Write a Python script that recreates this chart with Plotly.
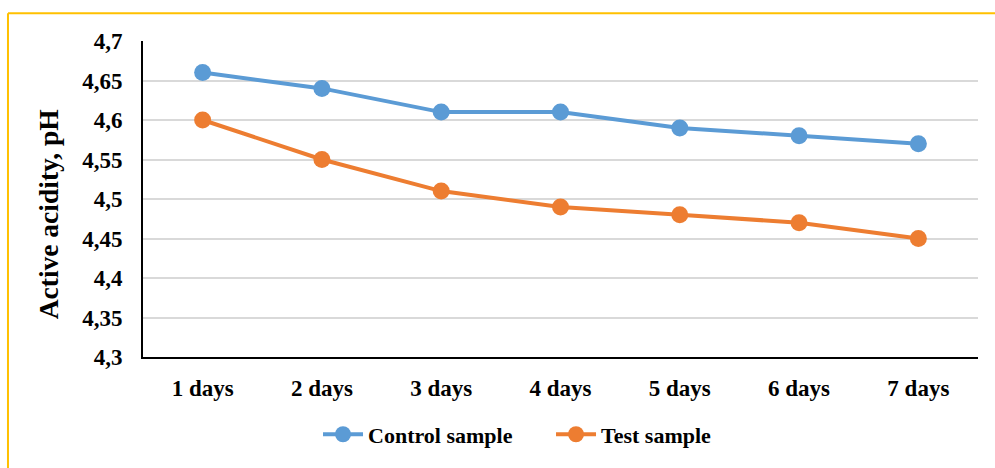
import plotly.graph_objects as go

categories = ["1 days", "2 days", "3 days", "4 days", "5 days", "6 days", "7 days"]
control_values = [4.66, 4.64, 4.61, 4.61, 4.59, 4.58, 4.57]
test_values = [4.60, 4.55, 4.51, 4.49, 4.48, 4.47, 4.45]
y_tick_values = [4.3, 4.35, 4.4, 4.45, 4.5, 4.55, 4.6, 4.65, 4.7]
y_tick_labels = ["4,3", "4,35", "4,4", "4,45", "4,5", "4,55", "4,6", "4,65", "4,7"]
y_title = "Active acidity, pH"

FONT = "Liberation Serif"

fig = go.Figure()
fig.add_trace(go.Scatter(
    x=categories, y=control_values, name="Control sample",
    mode="lines+markers",
    line=dict(color="#5B9BD5", width=4),
    marker=dict(color="#5B9BD5", size=17),
))
fig.add_trace(go.Scatter(
    x=categories, y=test_values, name="Test sample",
    mode="lines+markers",
    line=dict(color="#ED7D31", width=4),
    marker=dict(color="#ED7D31", size=17),
))

fig.update_layout(
    width=995, height=468,
    margin=dict(l=143, r=17, t=41, b=108),
    paper_bgcolor="white", plot_bgcolor="white",
    font=dict(family=FONT, size=23, color="black"),
    showlegend=True,
    legend=dict(
        orientation="h", x=0.2096, xanchor="left", y=-0.245, yanchor="middle",
        font=dict(family=FONT, size=22, color="black", weight="bold"),
        itemwidth=40, tracegroupgap=0, entrywidth=178, entrywidthmode="pixels",
    ),
    xaxis=dict(
        type="category", range=[-0.5, 6.5],
        showline=True, linecolor="black", linewidth=2,
        showgrid=False, ticks="", ticklabelstandoff=9,
        tickfont=dict(family=FONT, size=23, color="black", weight="bold"),
    ),
    yaxis=dict(
        range=[4.3, 4.7], tickvals=y_tick_values, ticktext=y_tick_labels,
        showline=True, linecolor="black", linewidth=2,
        showgrid=True, gridcolor="#D9D9D9", gridwidth=1.5,
        zeroline=False, ticks="", ticklabelstandoff=14,
        tickfont=dict(family=FONT, size=23, color="black", weight="bold"),
    ),
    annotations=[
        dict(text=y_title, xref="paper", yref="paper",
             x=-0.1138, y=0.4514, xanchor="center", yanchor="middle",
             textangle=-90, showarrow=False,
             font=dict(family=FONT, size=27.5, color="black", weight="bold")),
    ],
    shapes=[
        dict(type="line", xref="paper", yref="paper",
             x0=-0.1617, x1=1.1617, y0=1.0878, y1=1.0878,
             line=dict(color="#FFC000", width=2)),
        dict(type="line", xref="paper", yref="paper",
             x0=-0.1617, x1=-0.1617, y0=1.0878, y1=-0.4,
             line=dict(color="#FFC000", width=2)),
    ],
)

fig.write_html("out.html")
